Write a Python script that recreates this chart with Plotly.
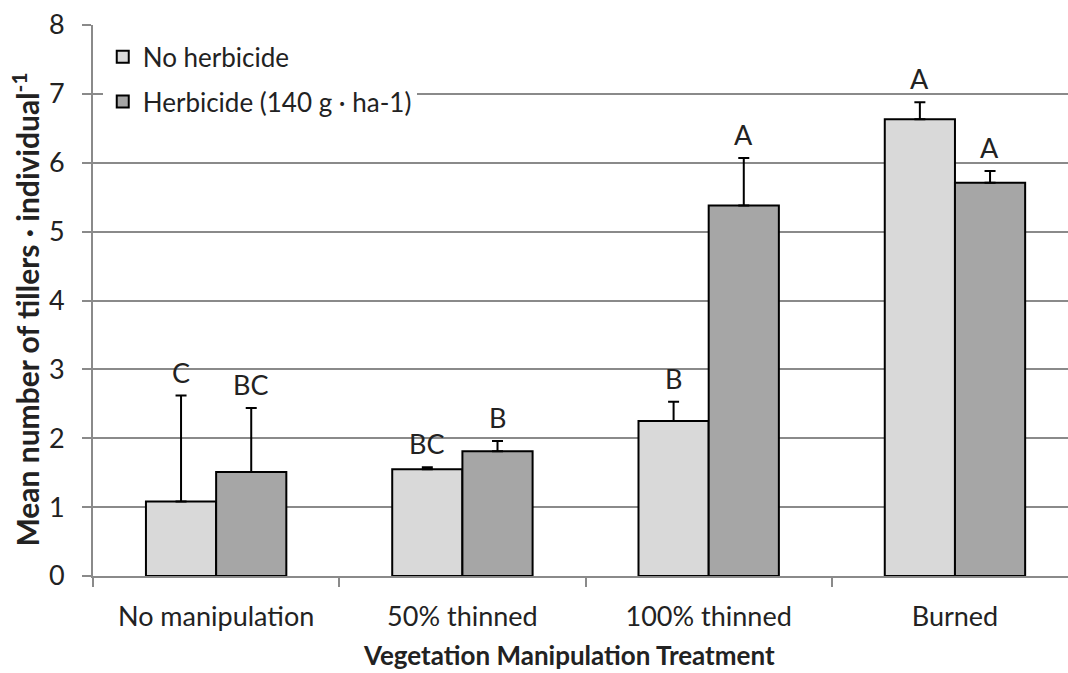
import plotly.graph_objects as go

# Treatment categories along the x axis
treatments = ["No manipulation", "50% thinned", "100% thinned", "Burned"]

# Mean tillers per individual and the upper standard-error lengths
no_herb_mean = [1.08, 1.55, 2.25, 6.63]
no_herb_err = [1.54, 0.03, 0.28, 0.25]
herb_mean = [1.51, 1.81, 5.38, 5.71]
herb_err = [0.93, 0.15, 0.69, 0.17]

# Significance letters above each bar
no_herb_letters = ["C", "BC", "B", "A"]
herb_letters = ["BC", "B", "A", "A"]

FONT = "Lato"
TXT = "#222222"
GRID = "#8a8a8a"

fig = go.Figure()

fig.add_trace(go.Bar(
    name="No herbicide",
    x=treatments, y=no_herb_mean,
    marker=dict(color="#d9d9d9", line=dict(color="#000000", width=2)),
    error_y=dict(type="data", symmetric=False, array=no_herb_err,
                 arrayminus=[0] * len(no_herb_err),
                 color="#000000", thickness=2, width=5.5),
    legendgroup="a",
))
fig.add_trace(go.Bar(
    name="Herbicide (140 g · ha-1)",
    x=treatments, y=herb_mean,
    marker=dict(color="#a6a6a6", line=dict(color="#000000", width=2)),
    error_y=dict(type="data", symmetric=False, array=herb_err,
                 arrayminus=[0] * len(herb_err),
                 color="#000000", thickness=2, width=5.5),
    legendgroup="b",
))

# Letters sit just above the error-bar caps, offset to each bar of the pair
annotations = []
for cat, m, e, lab in zip(treatments, no_herb_mean, no_herb_err, no_herb_letters):
    annotations.append(dict(x=cat, y=m + e, text=lab, showarrow=False,
                            xshift=-35, yshift=5, yanchor="bottom",
                            font=dict(family=FONT, size=27, color=TXT)))
for cat, m, e, lab in zip(treatments, herb_mean, herb_err, herb_letters):
    annotations.append(dict(x=cat, y=m + e, text=lab, showarrow=False,
                            xshift=35, yshift=5, yanchor="bottom",
                            font=dict(family=FONT, size=27, color=TXT)))

# Axis titles
annotations.append(dict(xref="paper", yref="paper", x=0.4887, y=-0.176,
                        text="<b>Vegetation Manipulation Treatment</b>",
                        showarrow=False, xanchor="center", yanchor="bottom",
                        font=dict(family=FONT, size=26, color=TXT)))
annotations.append(dict(xref="paper", yref="paper", x=-0.069, y=0.483,
                        text="<b>Mean number of tillers · individual<sup>-1</sup></b>",
                        showarrow=False, textangle=-90,
                        xanchor="center", yanchor="middle",
                        font=dict(family=FONT, size=30, color=TXT)))

fig.update_layout(
    width=1068, height=673,
    margin=dict(l=93, r=0, t=25, b=97),
    paper_bgcolor="white", plot_bgcolor="white",
    barmode="group", bargap=0.43, bargroupgap=0,
    font=dict(family=FONT, size=26, color=TXT),
    showlegend=True,
    legend=dict(x=0.01, y=0.985, xanchor="left", yanchor="top",
                bgcolor="white", borderwidth=0, tracegroupgap=8,
                traceorder="grouped",
                font=dict(family=FONT, size=26, color=TXT)),
    annotations=annotations,
)

fig.update_xaxes(
    type="category", range=[-0.5, 3.459],
    tickson="boundaries", ticks="outside", ticklen=9, tickwidth=2,
    tickcolor=GRID, showline=True, linecolor=GRID, linewidth=2,
    showgrid=False, ticklabelstandoff=16,
    tickfont=dict(family=FONT, size=27, color=TXT),
)
fig.update_yaxes(
    range=[0, 8], dtick=1, tick0=0,
    ticks="outside", ticklen=9, tickwidth=2, tickcolor=GRID,
    showline=True, linecolor=GRID, linewidth=2,
    showgrid=True, gridcolor=GRID, gridwidth=2,
    zeroline=False, ticklabelstandoff=12,
    tickfont=dict(family=FONT, size=27, color=TXT),
)

fig.write_html("out.html")
